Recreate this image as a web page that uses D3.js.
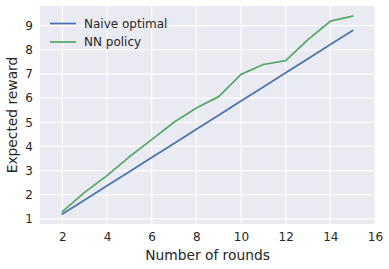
<!DOCTYPE html>
<html>
<head>
<meta charset="utf-8">
<script src="https://cdn.jsdelivr.net/npm/d3@7"></script>
<style>
  body { margin: 0; background: #fff; }
  text { font-family: "DejaVu Sans", sans-serif; fill: #262626; }
</style>
</head>
<body>
<svg id="chart" width="389" height="269"></svg>
<script>
// rounds on the x axis
const rounds = [2, 3, 4, 5, 6, 7, 8, 9, 10, 11, 12, 13, 14, 15];
const naiveOptimal = [1.2, 1.78, 2.37, 2.95, 3.54, 4.12, 4.71, 5.29, 5.88, 6.46, 7.05, 7.63, 8.22, 8.8];
const nnPolicy = [1.3, 2.1, 2.79, 3.57, 4.28, 5.0, 5.59, 6.06, 6.98, 7.39, 7.55, 8.42, 9.18, 9.39];
const xTicks = [2, 4, 6, 8, 10, 12, 14, 16];
const yTicks = [1, 2, 3, 4, 5, 6, 7, 8, 9];
const seriesNames = ["Naive optimal", "NN policy"];
const seriesColors = ["#4C72B0", "#55A868"];

const plot = {left: 40, right: 375, top: 6, bottom: 224};
const svg = d3.select("#chart");

const x = d3.scaleLinear().domain([1, 16]).range([plot.left, plot.right]);
const y = d3.scaleLinear().domain([0.79, 9.81]).range([plot.bottom, plot.top]);

svg.append("rect")
  .attr("x", plot.left).attr("y", plot.top)
  .attr("width", plot.right - plot.left)
  .attr("height", plot.bottom - plot.top)
  .attr("fill", "#EAEAF2");

// grid
svg.append("g")
  .selectAll("line.gx")
  .data(xTicks)
  .join("line")
  .attr("x1", d => x(d)).attr("x2", d => x(d))
  .attr("y1", plot.top).attr("y2", plot.bottom)
  .attr("stroke", "#fff").attr("stroke-width", 1.1);

svg.append("g")
  .selectAll("line.gy")
  .data(yTicks)
  .join("line")
  .attr("y1", d => y(d)).attr("y2", d => y(d))
  .attr("x1", plot.left).attr("x2", plot.right)
  .attr("stroke", "#fff").attr("stroke-width", 1.1);

// axes (labels only, seaborn darkgrid has no spines/ticks)
const xAxis = svg.append("g")
  .attr("transform", `translate(0,${plot.bottom})`)
  .call(d3.axisBottom(x).tickValues(xTicks).tickSize(0).tickPadding(8));
const yAxis = svg.append("g")
  .attr("transform", `translate(${plot.left},0)`)
  .call(d3.axisLeft(y).tickValues(yTicks).tickSize(0).tickPadding(7));
[xAxis, yAxis].forEach(g => {
  g.select(".domain").remove();
  g.selectAll("text").attr("font-size", 12).attr("font-family", "DejaVu Sans").attr("fill", "#262626");
});

// lines
const series = [naiveOptimal, nnPolicy];
const line = d3.line()
  .x((d, i) => x(rounds[i]))
  .y(d => y(d));

svg.append("g")
  .selectAll("path")
  .data(series)
  .join("path")
  .attr("d", d => line(d))
  .attr("fill", "none")
  .attr("stroke", (d, i) => seriesColors[i])
  .attr("stroke-width", 1.75)
  .attr("stroke-linejoin", "round")
  .attr("stroke-linecap", "round");

// legend
const legend = svg.append("g")
  .selectAll("g")
  .data(seriesNames)
  .join("g")
  .attr("transform", (d, i) => `translate(50,${23.5 + i * 18.5})`);
legend.append("line")
  .attr("x1", 0).attr("x2", 26)
  .attr("stroke", (d, i) => seriesColors[i])
  .attr("stroke-width", 1.75);
legend.append("text")
  .attr("x", 34).attr("dy", "0.35em")
  .attr("font-size", 12)
  .text(d => d);

// axis labels
svg.append("text")
  .attr("x", (plot.left + plot.right) / 2)
  .attr("y", 260)
  .attr("text-anchor", "middle")
  .attr("font-size", 13.8)
  .text("Number of rounds");

svg.append("text")
  .attr("transform", `translate(17,${(plot.top + plot.bottom) / 2}) rotate(-90)`)
  .attr("text-anchor", "middle")
  .attr("font-size", 13.8)
  .text("Expected reward");
</script>
</body>
</html>
